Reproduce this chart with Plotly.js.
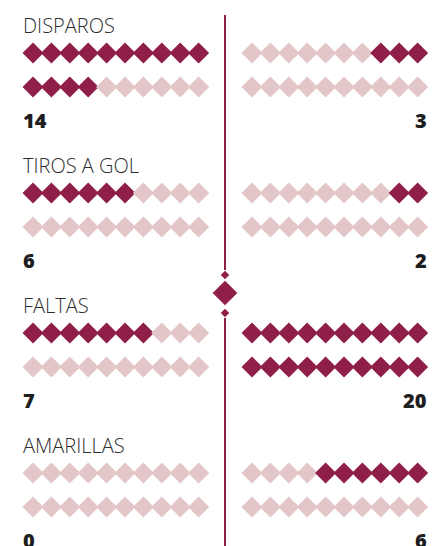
<!DOCTYPE html>
<html>
<head>
<meta charset="utf-8">
<script src="https://cdn.plot.ly/plotly-3.0.1.min.js"></script>
<style>html,body{margin:0;padding:0;background:#fff;}#chart{width:440px;height:546px;}</style>
</head>
<body>
<div id="chart"></div>
<script>
// ---- data ----
const categories = ["DISPAROS", "TIROS A GOL", "FALTAS", "AMARILLAS"];
const leftValues = [14, 6, 7, 0];
const rightValues = [3, 2, 20, 6];
const dotsPerRow = 10;
const rowsPerBlock = 2;

// ---- layout constants ----
const W = 440, H = 546;
const DARK = "#8f1f49", LIGHT = "#e3c6c8";
const blockH = 140;
const titleY = 25, row1Y = 53, rowGap = 34, numY = 120;
const leftX0 = 33, rightX0 = 252, step = 18.4;
const axisX = 225;

const xs = [], ys = [], cols = [];
function addBlock(value, b, side) {
  const total = dotsPerRow * rowsPerBlock;
  const pts = [];
  for (let k = 0; k < total; k++) {
    const row = Math.floor(k / dotsPerRow);
    let col = k % dotsPerRow;
    if (side === "right") col = dotsPerRow - 1 - col;
    const x0 = side === "left" ? leftX0 : rightX0;
    pts.push({x: x0 + col * step, y: b * blockH + row1Y + row * rowGap, on: k < value});
  }
  pts.sort((a, b2) => (a.y - b2.y) || (a.x - b2.x));
  pts.forEach(p => { xs.push(p.x); ys.push(p.y); cols.push(p.on ? DARK : LIGHT); });
}
categories.forEach((c, b) => { addBlock(leftValues[b], b, "left"); addBlock(rightValues[b], b, "right"); });

const traces = [
  {type: "scatter", mode: "markers", x: xs, y: ys, hoverinfo: "skip",
   marker: {symbol: "diamond", size: 16.2, color: cols, opacity: 1, line: {width: 0}}},
  // central ornament
  {type: "scatter", mode: "markers", x: [axisX, axisX, axisX], y: [275, 293, 313], hoverinfo: "skip",
   marker: {symbol: "diamond", size: [6.5, 19, 6.5], color: DARK, opacity: 1, line: {width: 0}}}
];

const annotations = [];
categories.forEach((c, b) => {
  annotations.push({x: 21, y: b * blockH + titleY, xref: "x", yref: "y", text: c, showarrow: false,
    xanchor: "left", yanchor: "middle",
    font: {family: "Open Sans", size: 20, color: "#2e2e2e", weight: 300}});
  annotations.push({x: 21, y: b * blockH + numY, xref: "x", yref: "y", text: String(leftValues[b]), showarrow: false,
    xanchor: "left", yanchor: "middle",
    font: {family: "Open Sans", size: 20, color: "#1e1e1e", weight: 800}});
  annotations.push({x: 429, y: b * blockH + numY, xref: "x", yref: "y", text: String(rightValues[b]), showarrow: false,
    xanchor: "right", yanchor: "middle",
    font: {family: "Open Sans", size: 20, color: "#1e1e1e", weight: 800}});
});

const shapes = [
  {type: "line", xref: "x", yref: "y", x0: axisX, x1: axisX, y0: 15, y1: 270, line: {color: DARK, width: 2}},
  {type: "line", xref: "x", yref: "y", x0: axisX, x1: axisX, y0: 318, y1: 546, line: {color: DARK, width: 2}}
];

const layout = {
  width: W, height: H, margin: {l: 0, r: 0, t: 0, b: 0},
  paper_bgcolor: "#fff", plot_bgcolor: "#fff", showlegend: false,
  xaxis: {range: [0, W], visible: false, fixedrange: true},
  yaxis: {range: [H, 0], visible: false, fixedrange: true},
  annotations, shapes
};
Plotly.newPlot("chart", traces, layout, {displayModeBar: false, staticPlot: true});
</script>
</body>
</html>
